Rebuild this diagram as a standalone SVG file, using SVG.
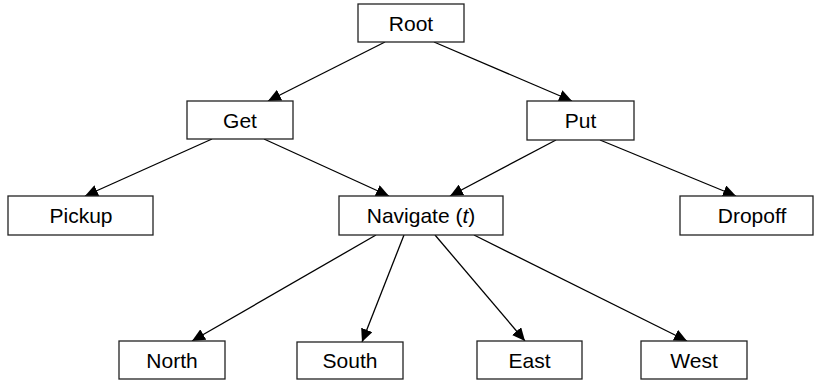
<svg xmlns="http://www.w3.org/2000/svg" width="815" height="380" viewBox="0 0 815 380">
<defs>
<style>
.box{fill:#fff;stroke:#222;stroke-width:1.3}
.lbl{font-family:"Liberation Sans",Arial,Helvetica,sans-serif;font-size:21px;fill:#000;text-anchor:middle}
.edge{stroke:#000;stroke-width:1.3;fill:none;marker-end:url(#arr)}
</style>
<marker id="arr" markerUnits="userSpaceOnUse" markerWidth="14" markerHeight="12" viewBox="0 0 14 12" refX="13" refY="6" orient="auto">
<path d="M0,0 L13,6 L0,12 Z" fill="#000"/>
</marker>
</defs>
<rect width="815" height="380" fill="#fff"/>
<g id="connectors">
<line class="edge" x1="385" y1="42" x2="268" y2="101"/>
<line class="edge" x1="434" y1="42" x2="572" y2="101"/>
<line class="edge" x1="212" y1="139" x2="85" y2="196"/>
<line class="edge" x1="264" y1="139" x2="389" y2="196"/>
<line class="edge" x1="556" y1="140" x2="450" y2="196"/>
<line class="edge" x1="600" y1="140" x2="736" y2="196"/>
<line class="edge" x1="376" y1="235" x2="192" y2="341"/>
<line class="edge" x1="404" y1="235" x2="362" y2="342"/>
<line class="edge" x1="435" y1="235" x2="525" y2="341"/>
<line class="edge" x1="474" y1="235" x2="687" y2="341"/>
</g>
<g id="root"><rect class="box" x="358" y="4" width="106" height="38"/><text class="lbl" x="411" y="31">Root</text></g>
<g id="get"><rect class="box" x="187" y="101" width="106" height="38"/><text class="lbl" x="240" y="128">Get</text></g>
<g id="put"><rect class="box" x="527" y="101" width="107" height="39"/><text class="lbl" x="580.5" y="128">Put</text></g>
<g id="pickup"><rect class="box" x="8" y="196" width="145" height="39"/><text class="lbl" x="81" y="223">Pickup</text></g>
<g id="navigate"><rect class="box" x="339" y="196" width="164" height="39"/><text class="lbl" x="421" y="223">Navigate (<tspan font-style="italic">t</tspan>)</text></g>
<g id="dropoff"><rect class="box" x="680" y="196" width="133" height="39"/><text class="lbl" x="752" y="223">Dropoff</text></g>
<g id="north"><rect class="box" x="119" y="341" width="106" height="38"/><text class="lbl" x="172" y="368">North</text></g>
<g id="south"><rect class="box" x="297" y="342" width="106" height="37"/><text class="lbl" x="350" y="368">South</text></g>
<g id="east"><rect class="box" x="477" y="341" width="105" height="38"/><text class="lbl" x="529.5" y="368">East</text></g>
<g id="west"><rect class="box" x="641" y="341" width="106" height="38"/><text class="lbl" x="694" y="368">West</text></g>
</svg>
